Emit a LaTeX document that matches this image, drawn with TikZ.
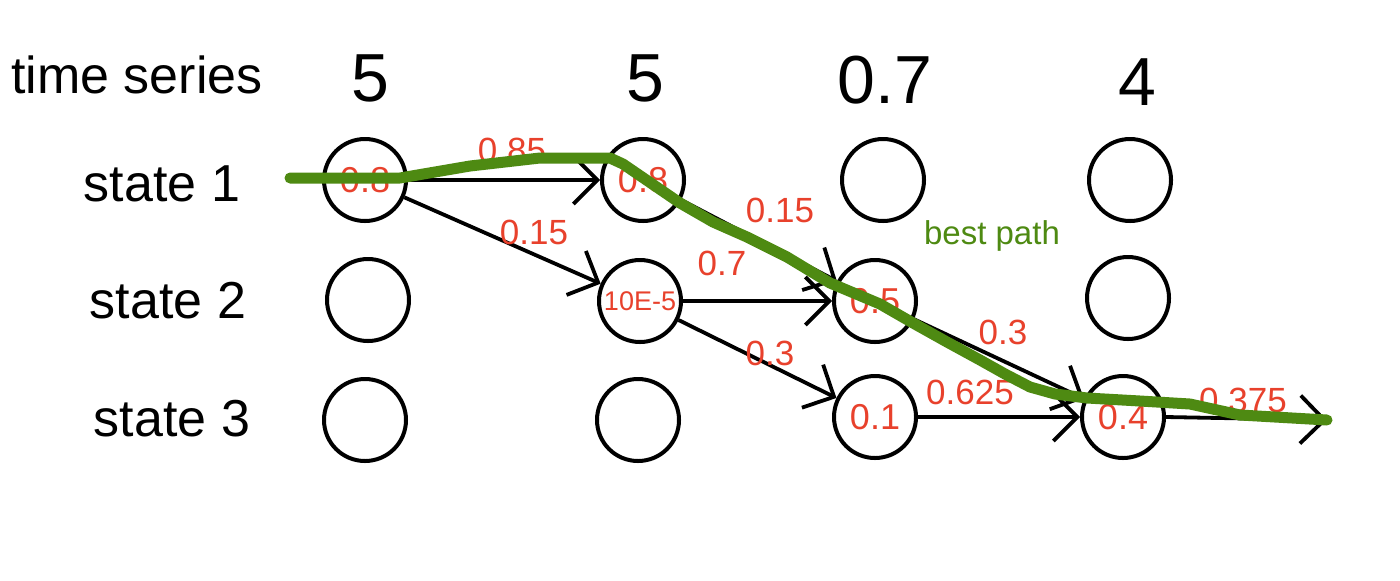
\documentclass[tikz,border=0pt]{standalone}
\usepackage{fontspec}
\setmainfont{Liberation Sans}
\usetikzlibrary{arrows.meta}
\definecolor{probred}{HTML}{E8412C}
\definecolor{pathgreen}{HTML}{4E8A12}
\begin{document}
\begin{tikzpicture}[x=0.5pt,y=-0.5pt,
  statecirc/.style={circle,draw=black,line width=2pt,minimum size=41pt,inner sep=0pt,
    text=probred,font=\fontsize{18}{18}\selectfont},
  rowlabel/.style={font=\fontsize{26}{26}\selectfont},
  colval/.style={font=\fontsize{34}{34}\selectfont},
  prob/.style={text=probred,font=\fontsize{17.5}{17.5}\selectfont},
  trans/.style={line width=1.9pt,-{Straight Barb[length=12pt,width=24pt,line width=1.9pt]}},
  bestpath/.style={draw=pathgreen,line width=5.5pt,line cap=round,line join=round}]
\useasboundingbox[fill=white] (0,0) rectangle (1400,580);

% header row
\node[rowlabel] (ts) at (137,75) {time series};
\node[colval] (v1) at (370,78) {5};
\node[colval] (v2) at (645,78) {5};
\node[colval] (v3) at (885,80) {0.7};
\node[colval] (v4) at (1137,82) {4};

% state labels
\node[rowlabel] (r1) at (162,184) {state 1};
\node[rowlabel] (r2) at (168,301) {state 2};
\node[rowlabel] (r3) at (172,419) {state 3};

% trellis of states
\node[statecirc] (s11) at (365,180) {0.8};
\node[statecirc] (s12) at (368,300) {};
\node[statecirc] (s13) at (365,420) {};
\node[statecirc] (s21) at (643,180) {0.8};
\node[statecirc,font=\fontsize{13.5}{13.5}\selectfont] (s22) at (640,301) {10E-5};
\node[statecirc] (s23) at (638,420) {};
\node[statecirc] (s31) at (883,180) {};
\node[statecirc] (s32) at (875,301) {0.5};
\node[statecirc] (s33) at (875,417) {0.1};
\node[statecirc] (s41) at (1130,180) {};
\node[statecirc] (s42) at (1128,298) {};
\node[statecirc] (s43) at (1123,417) {0.4};
\coordinate (tail) at (1327,420);

% transitions
\draw[trans] (s11.east) -- (s21.west);
\draw[trans] (s11) -- (s22);
\draw[trans] (s21) -- (s32);
\draw[trans] (s22.east) -- (s32.west);
\draw[trans] (s22) -- (s33);
\draw[trans] (s32) -- (s43);
\draw[trans] (s33.east) -- (s43.west);
\draw[trans] (s43.east) -- (tail);

% transition probabilities
\node[prob] (p1) at (512,150) {0.85};
\node[prob] (p2) at (534,232) {0.15};
\node[prob] (p3) at (780,210) {0.15};
\node[prob] (p4) at (722,263) {0.7};
\node[prob] (p5) at (770,353) {0.3};
\node[prob] (p6) at (1003,332) {0.3};
\node[prob] (p7) at (970,392) {0.625};
\node[prob] (p8) at (1243,400) {0.375};

% best path
\draw[bestpath] (290,178) -- (400,178) -- (470,166) -- (540,158) -- (610,158)
  -- (623,164) -- (680,203) -- (713,222) -- (747,237) -- (787,257) -- (830,283)
  -- (880,304) -- (913,323) -- (947,342) -- (980,360) -- (1005,374)
  -- (1030,387) -- (1055,394) -- (1087,398) -- (1140,401) -- (1190,404)
  -- (1240,415) -- (tail);
\node[text=pathgreen,font=\fontsize{16.5}{16.5}\selectfont] (bp) at (992,236) {best path};
\end{tikzpicture}
\end{document}
